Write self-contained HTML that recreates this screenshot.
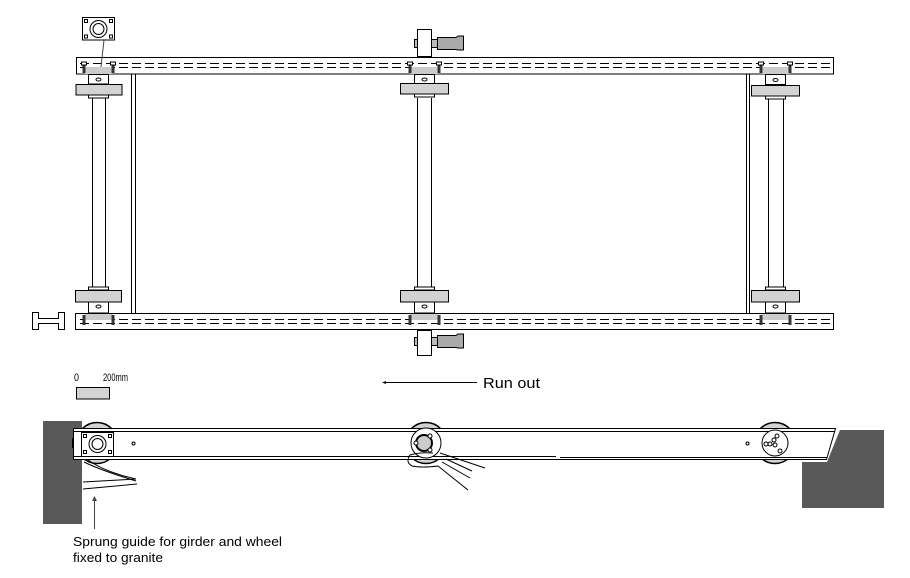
<!DOCTYPE html>
<html><head><meta charset="utf-8"><style>
html,body{margin:0;padding:0;background:#fff;}
svg{display:block;}
text{font-family:"Liberation Sans",sans-serif;fill:#000;}
</style></head><body>
<svg width="910" height="578" viewBox="0 0 910 578" xmlns="http://www.w3.org/2000/svg">
<rect width="910" height="578" fill="#fff"/>
<g stroke="#000" stroke-width="1" fill="none">
<!-- frame verticals -->
<line x1="131.5" y1="63" x2="131.5" y2="318"/>
<line x1="135.5" y1="63" x2="135.5" y2="318"/>
<line x1="746.5" y1="62" x2="746.5" y2="323"/>
<line x1="749.5" y1="62" x2="749.5" y2="323"/>
<rect x="744.5" y="61.5" width="5" height="4" fill="#fff"/>
<!-- shafts -->
<line x1="92.5" y1="98" x2="92.5" y2="287"/><line x1="105.5" y1="98" x2="105.5" y2="287"/>
<line x1="417.5" y1="98" x2="417.5" y2="287"/><line x1="431.5" y1="98" x2="431.5" y2="287"/>
<line x1="768.5" y1="98" x2="768.5" y2="287"/><line x1="783.5" y1="98" x2="783.5" y2="287"/>
<!-- rails -->
<rect x="76.5" y="57.5" width="757" height="16.5" fill="#fff"/>
<line x1="80" y1="63.5" x2="832" y2="63.5" stroke-dasharray="9 4"/>
<line x1="80" y1="67.5" x2="832" y2="67.5" stroke-dasharray="9 4"/>
<rect x="75.5" y="313.5" width="758" height="16" fill="#fff"/>
<line x1="80" y1="319.5" x2="832" y2="319.5" stroke-dasharray="9 4"/>
<line x1="80" y1="323.5" x2="832" y2="323.5" stroke-dasharray="9 4"/>
</g>

<!-- top bearings -->
<g stroke="#000" stroke-width="1">
<g transform="translate(98.5,0)">
 <rect x="-14" y="67" width="28" height="7" fill="#ccc" stroke="none"/>
 <rect x="-16" y="63" width="3" height="10" fill="#333" stroke="none"/><rect x="13" y="63" width="3" height="10" fill="#333" stroke="none"/>
 <rect x="-17" y="62" width="5" height="3" fill="#fff"/><rect x="12" y="62" width="5" height="3" fill="#fff"/>
 <rect x="-10" y="74.5" width="20" height="9.5" fill="#fff"/>
 <ellipse cx="0" cy="79.5" rx="2.5" ry="1.5" fill="#fff"/>
 <rect x="-22.5" y="84.5" width="46" height="10.5" fill="#d3d3d3"/>
 <rect x="-10" y="95" width="20" height="3" fill="#fff"/>
</g>
<g transform="translate(424.5,0)">
 <rect x="-14" y="67" width="28" height="7" fill="#ccc" stroke="none"/>
 <rect x="-16" y="63" width="3" height="10" fill="#333" stroke="none"/><rect x="13" y="63" width="3" height="10" fill="#333" stroke="none"/>
 <rect x="-17" y="62" width="5" height="3" fill="#fff"/><rect x="12" y="62" width="5" height="3" fill="#fff"/>
 <rect x="-10" y="74.5" width="20" height="9.5" fill="#fff"/>
 <ellipse cx="0" cy="79.5" rx="2.5" ry="1.5" fill="#fff"/>
 <rect x="-24" y="83.5" width="48" height="10.5" fill="#d3d3d3"/>
 <rect x="-10" y="94" width="20" height="3" fill="#fff"/>
</g>
<g transform="translate(775.5,0)">
 <rect x="-14" y="67" width="28" height="7" fill="#ccc" stroke="none"/>
 <rect x="-16" y="63" width="3" height="10" fill="#333" stroke="none"/><rect x="13" y="63" width="3" height="10" fill="#333" stroke="none"/>
 <rect x="-17" y="62" width="5" height="3" fill="#fff"/><rect x="12" y="62" width="5" height="3" fill="#fff"/>
 <rect x="-10" y="74.5" width="20" height="10" fill="#fff"/>
 <ellipse cx="0" cy="80" rx="2.5" ry="1.5" fill="#fff"/>
 <rect x="-24" y="85.5" width="48" height="10.5" fill="#d3d3d3"/>
 <rect x="-10" y="96" width="20" height="3" fill="#fff"/>
</g>

<!-- bottom bearings -->
<g transform="translate(98.5,0)">
 <rect x="-10" y="287" width="20" height="3" fill="#fff"/>
 <rect x="-23" y="290.5" width="46" height="11.5" fill="#d3d3d3"/>
 <rect x="-10" y="302" width="20" height="11" fill="#fff"/>
 <ellipse cx="0" cy="306.5" rx="2.5" ry="1.5" fill="#fff"/>
 <rect x="-14" y="314" width="28" height="6" fill="#ccc" stroke="none"/>
 <rect x="-16" y="315" width="3" height="10" fill="#333" stroke="none"/><rect x="13" y="315" width="3" height="10" fill="#333" stroke="none"/>
</g>
<g transform="translate(424.5,0)">
 <rect x="-10" y="287" width="20" height="3" fill="#fff"/>
 <rect x="-24" y="290.5" width="48" height="11.5" fill="#d3d3d3"/>
 <rect x="-10" y="302" width="20" height="11" fill="#fff"/>
 <ellipse cx="0" cy="306.5" rx="2.5" ry="1.5" fill="#fff"/>
 <rect x="-14" y="314" width="28" height="6" fill="#ccc" stroke="none"/>
 <rect x="-16" y="315" width="3" height="10" fill="#333" stroke="none"/><rect x="13" y="315" width="3" height="10" fill="#333" stroke="none"/>
</g>
<g transform="translate(775.5,0)">
 <rect x="-10" y="287" width="20" height="3" fill="#fff"/>
 <rect x="-24" y="290.5" width="48" height="11.5" fill="#d3d3d3"/>
 <rect x="-10" y="302" width="20" height="11" fill="#fff"/>
 <ellipse cx="0" cy="306.5" rx="2.5" ry="1.5" fill="#fff"/>
 <rect x="-14" y="314" width="28" height="6" fill="#ccc" stroke="none"/>
 <rect x="-16" y="315" width="3" height="10" fill="#333" stroke="none"/><rect x="13" y="315" width="3" height="10" fill="#333" stroke="none"/>
</g>

<!-- middle handles -->
<rect x="417.5" y="29.5" width="14" height="27" fill="#fff"/>
<rect x="414.5" y="39.5" width="3" height="8" fill="#bbb"/>
<rect x="431.5" y="39.5" width="6" height="8" fill="#bbb"/>
<polygon points="437.5,37.5 456,37.5 458,36 463.5,36 463.5,50 458,50 456,49.5 437.5,49.5" fill="#aaa"/>
<rect x="417.5" y="330.5" width="14" height="25" fill="#fff"/>
<rect x="414.5" y="337.5" width="3" height="8" fill="#bbb"/>
<rect x="431.5" y="337.5" width="6" height="8" fill="#bbb"/>
<polygon points="437.5,335.5 456,335.5 458,334 463.5,334 463.5,348 458,348 456,347.5 437.5,347.5" fill="#aaa"/>

<!-- mount icon -->
<rect x="82.5" y="17.5" width="32" height="22.5" fill="#fff"/>
<circle cx="98.5" cy="29" r="8.5" fill="#fff"/>
<circle cx="98.5" cy="29" r="5.5" fill="#fff"/>
<rect x="84.5" y="19.5" width="3" height="3" fill="#fff"/><rect x="109.5" y="19.5" width="3" height="3" fill="#fff"/>
<rect x="84.5" y="35" width="3" height="3" fill="#fff"/><rect x="109.5" y="35" width="3" height="3" fill="#fff"/>
<line x1="104" y1="40" x2="101" y2="67" stroke="#444"/>

<!-- H beam -->
<polygon points="32.5,312.5 38.5,312.5 38.5,318.5 58.5,318.5 58.5,312.5 64.5,312.5 64.5,329.5 58.5,329.5 58.5,323.5 38.5,323.5 38.5,329.5 32.5,329.5" fill="#fff"/>
</g>

<!-- scale bar & run out -->
<text x="74" y="381" font-size="11" textLength="5" lengthAdjust="spacingAndGlyphs">0</text>
<text x="103" y="381" font-size="11" textLength="25" lengthAdjust="spacingAndGlyphs">200mm</text>
<rect x="76.5" y="387.5" width="33" height="11.5" fill="#d3d3d3" stroke="#000"/>
<line x1="384" y1="382.5" x2="477" y2="382.5" stroke="#000" stroke-width="1"/>
<polygon points="382,382.5 386,381 386,384" fill="#000"/>
<text x="483" y="388" font-size="15" textLength="57" lengthAdjust="spacingAndGlyphs">Run out</text>

<!-- side view -->
<g stroke="#000" stroke-width="1">
 <circle cx="97" cy="443" r="20.5" fill="#d3d3d3" stroke-width="1.5"/>
</g>
<rect x="43" y="421" width="39" height="103" fill="#595959"/>
<polygon points="840,430 884,430 884,508 802,508 802,462 827,462" fill="#595959"/>
<g stroke="#000" stroke-width="1">
 <circle cx="426" cy="443" r="20.5" fill="#d3d3d3" stroke-width="1.5"/>
 <circle cx="775" cy="443" r="20.5" fill="#d3d3d3" stroke-width="1.5"/>
 <polygon points="73.5,428.5 835.5,428.5 826.5,459.5 73.5,459.5" fill="#fff"/>
 <line x1="73.5" y1="431.5" x2="834.5" y2="431.5"/>
 <line x1="73.5" y1="456.5" x2="556" y2="456.5"/>
 <line x1="560" y1="457.5" x2="827.5" y2="457.5"/>
 <rect x="72" y="438" width="2" height="10" fill="#000" stroke="none"/>
 <!-- left mount -->
 <rect x="81.5" y="432.5" width="32" height="24" fill="#fff"/>
 <circle cx="97.5" cy="444" r="8.5" fill="#fff"/>
 <circle cx="97.5" cy="444" r="5.5" fill="#fff"/>
 <rect x="83.5" y="434.5" width="3" height="3" fill="#fff"/><rect x="108.5" y="434.5" width="3" height="3" fill="#fff"/>
 <rect x="83.5" y="450.5" width="3" height="3" fill="#fff"/><rect x="108.5" y="450.5" width="3" height="3" fill="#fff"/>
 <circle cx="133.5" cy="443.5" r="1.5" fill="#fff"/>
 <circle cx="747.5" cy="443.5" r="1.5" fill="#fff"/>
 <!-- middle wheel detail -->
 <circle cx="426" cy="443" r="15" fill="#fff"/>
 <circle cx="424" cy="443" r="8" fill="#ccc" stroke-width="2"/>
 <circle cx="430" cy="436" r="2" fill="#fff"/><circle cx="430" cy="450" r="2" fill="#fff"/><circle cx="416" cy="443" r="2" fill="#fff"/>
 <path d="M433,453 Q420,452 410,455 Q405,462 412,466 Q422,468 438,466 L468,490" fill="none"/>
 <path d="M440,453 L485,468" fill="none"/>
 <path d="M446,459 L472,471" fill="none"/>
 <path d="M442,462 L470,478" fill="none"/>
 <!-- right wheel detail -->
 <circle cx="775" cy="443" r="13" fill="#fff"/>
 <circle cx="777" cy="436" r="2" fill="#fff"/><circle cx="774" cy="440" r="2" fill="#fff"/>
 <circle cx="770" cy="444" r="2" fill="#fff"/><circle cx="775" cy="445" r="2" fill="#fff"/>
 <circle cx="780" cy="451" r="2" fill="#fff"/><circle cx="766" cy="444" r="2" fill="#fff"/>
 <!-- sprung guide -->
 <path d="M84,462 Q100,470 136,481" fill="none"/>
 <path d="M88,460 Q105,472 136,479" fill="none"/>
 <path d="M83,482 L136,479" fill="none"/>
 <path d="M83,489 L137,484" fill="none"/>
 <line x1="94.5" y1="499" x2="94.5" y2="529" stroke="#444"/>
</g>
<polygon points="94.5,496 92,501 97,501" fill="#444"/>
<text x="73" y="546" font-size="13" textLength="209" lengthAdjust="spacingAndGlyphs">Sprung guide for girder and wheel</text>
<text x="73" y="562" font-size="13" textLength="90" lengthAdjust="spacingAndGlyphs">fixed to granite</text>
</svg>
</body></html>
